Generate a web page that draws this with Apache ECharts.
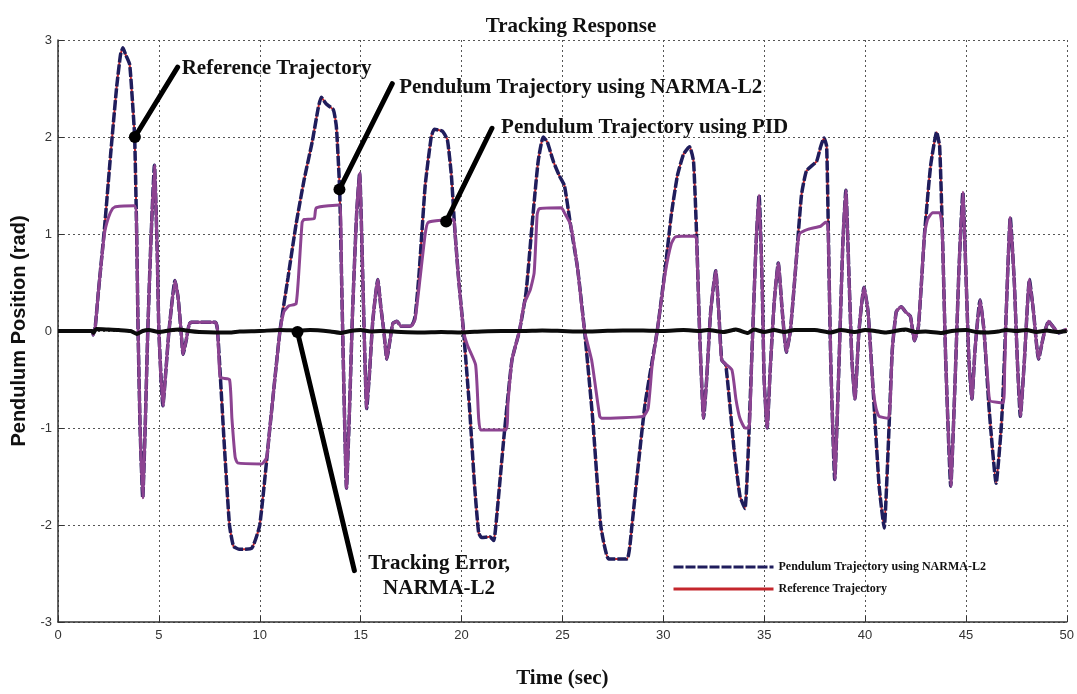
<!DOCTYPE html>
<html>
<head>
<meta charset="utf-8">
<title>Tracking Response</title>
<script src="https://cdn.jsdelivr.net/npm/echarts@6/dist/echarts.min.js"></script>
<style>
  html, body { margin: 0; padding: 0; background: #ffffff; }
  #chart { width: 1077px; height: 694px; }
</style>
</head>
<body>
<div id="chart"></div>
<script>
// Axis ticks
const timeTicks = [0, 5, 10, 15, 20, 25, 30, 35, 40, 45, 50];
const angleTicks = [-3, -2, -1, 0, 1, 2, 3];

// Reference trajectory (the NARMA-L2 response lies on it within the line width)
const refTime = [0, 1.7, 1.75, 1.85, 2.0, 2.3, 2.6, 2.9, 3.1, 3.22, 3.35, 3.55, 3.68, 3.8, 3.9, 3.97, 4.07, 4.2, 4.32, 4.45,
  4.6, 4.78, 4.92, 5.0, 5.2, 5.35, 5.5, 5.8, 5.95, 6.1, 6.2, 6.35, 6.5, 6.6, 7.8, 7.9, 8.0, 8.25, 8.5, 8.7,
  9.0, 9.6, 10.0, 10.5, 11.0, 11.4, 11.8, 12.2, 12.6, 12.9, 13.05, 13.3, 13.65, 13.8, 13.96, 14.05, 14.15, 14.3, 14.45, 14.6,
  14.8, 14.95, 15.1, 15.2, 15.3, 15.45, 15.6, 15.85, 16.0, 16.15, 16.3, 16.45, 16.6, 16.8, 17.0, 17.5, 17.7, 17.9, 18.2, 18.5,
  18.65, 19.05, 19.3, 19.5, 19.65, 19.85, 20.1, 20.4, 20.65, 20.85, 21.0, 21.4, 21.6, 21.75, 22.1, 22.5, 22.87, 23.2, 23.5, 23.8,
  24.05, 24.25, 24.55, 24.85, 25.1, 25.4, 25.75, 26.1, 26.5, 26.9, 27.3, 28.2, 28.45, 28.7, 29.1, 29.7, 30.1, 30.4, 30.7, 31.0,
  31.3, 31.5, 31.65, 31.8, 32.0, 32.15, 32.35, 32.6, 32.75, 32.9, 33.1, 33.5, 33.8, 34.05, 34.2, 34.4, 34.6, 34.75, 34.9, 35.0,
  35.15, 35.3, 35.5, 35.7, 35.9, 36.1, 36.3, 36.6, 36.85, 37.1, 37.6, 37.8, 37.97, 38.1, 38.2, 38.3, 38.5, 38.7, 38.9, 39.05,
  39.2, 39.35, 39.5, 39.7, 39.95, 40.15, 40.4, 40.7, 40.95, 41.15, 41.35, 41.55, 41.8, 42.0, 42.25, 42.45, 42.65, 42.95, 43.25, 43.55,
  43.7, 43.85, 44.0, 44.25, 44.45, 44.65, 44.85, 45.0, 45.15, 45.3, 45.45, 45.7, 45.9, 46.15, 46.5, 46.75, 46.85, 47.0, 47.2, 47.4,
  47.55, 47.7, 47.9, 48.15, 48.35, 48.6, 48.85, 49.1, 49.3, 49.6, 50];
const refAngle = [0, 0, -0.04, 0.05, 0.4, 1.05, 1.8, 2.5, 2.85, 2.92, 2.85, 2.75, 2.4, 2.0, 1.0, 0, -1.0, -1.72, -1.0, 0,
  0.9, 1.71, 0.8, 0, -0.77, -0.4, 0, 0.52, 0.35, 0, -0.24, -0.1, 0.07, 0.09, 0.09, 0.02, -0.3, -1.2, -2.0, -2.22,
  -2.25, -2.24, -2.0, -1.0, 0, 0.55, 1.1, 1.56, 1.95, 2.3, 2.41, 2.34, 2.28, 2.1, 1.46, 0.6, -0.4, -1.62, -0.8, 0.2,
  1.2, 1.63, 0.6, -0.2, -0.8, -0.4, 0.1, 0.53, 0.25, 0, -0.29, -0.1, 0.08, 0.1, 0.05, 0.05, 0.15, 0.6, 1.5, 2.0,
  2.08, 2.06, 1.97, 1.6, 1.1, 0.55, 0, -0.8, -1.6, -2.08, -2.13, -2.12, -2.16, -1.9, -1.1, -0.3, 0, 0.4, 1.1, 1.75,
  2.0, 1.95, 1.75, 1.6, 1.5, 1.1, 0.65, 0, -0.9, -2.0, -2.35, -2.35, -2.0, -1.5, -0.75, 0, 0.65, 1.2, 1.6, 1.82,
  1.9, 1.75, 1.0, 0, -0.9, -0.5, 0.2, 0.62, 0.2, -0.3, -0.35, -1.2, -1.7, -1.83, -1.3, -0.2, 0.9, 1.4, 0.5, -0.5,
  -1.0, -0.4, 0.3, 0.7, 0.2, -0.22, 0, 0.75, 1.4, 1.65, 1.75, 1.9, 1.99, 1.9, 0.8, -0.3, -1.53, -0.4, 0.9, 1.45,
  0.6, -0.3, -0.7, 0, 0.45, 0.2, -0.6, -1.6, -2.03, -1.2, -0.2, 0.2, 0.25, 0.2, 0.15, -0.1, 0.05, 1.0, 1.7, 2.05,
  1.9, 0.9, -0.3, -1.6, -0.6, 0.6, 1.43, 0.6, -0.3, -0.7, -0.2, 0.32, 0, -0.8, -1.57, -1.0, -0.6, 0.2, 1.17, 0.5,
  -0.3, -0.88, -0.3, 0.53, 0.2, -0.29, -0.05, 0.1, 0.05, -0.02, 0.02];

// Pendulum response under PID control
const pidTime = [0, 1.7, 1.75, 1.85, 2.0, 2.3, 2.5, 2.7, 2.85, 3.8, 3.9, 3.97, 4.07, 4.2, 4.32, 4.45, 4.6, 4.78, 4.92, 5.0,
  5.2, 5.35, 5.5, 5.8, 5.95, 6.1, 6.2, 6.35, 6.5, 6.6, 7.8, 7.9, 7.98, 8.05, 8.5, 8.62, 8.78, 8.9, 10.1, 10.35,
  10.5, 11.0, 11.2, 11.45, 11.8, 11.95, 12.1, 12.2, 12.7, 12.8, 13.95, 14.05, 14.15, 14.3, 14.45, 14.6, 14.8, 14.95, 15.1, 15.2,
  15.3, 15.45, 15.6, 15.85, 16.0, 16.15, 16.3, 16.45, 16.6, 16.8, 17.0, 17.5, 17.7, 17.95, 18.2, 18.35, 19.6, 19.68, 19.85, 20.1,
  20.3, 20.7, 20.85, 20.95, 22.2, 22.3, 22.5, 22.87, 23.1, 23.4, 23.6, 23.75, 23.85, 24.95, 25.1, 25.4, 25.75, 26.1, 26.45, 26.85,
  26.95, 29.0, 29.25, 29.45, 29.7, 30.1, 30.4, 30.6, 31.55, 31.65, 31.8, 32.0, 32.15, 32.35, 32.6, 32.75, 32.9, 33.4, 33.6, 33.8,
  34.05, 34.25, 34.4, 34.6, 34.75, 34.9, 35.0, 35.15, 35.3, 35.5, 35.7, 35.9, 36.1, 36.3, 36.6, 36.75, 37.2, 37.8, 38.05, 38.15,
  38.2, 38.3, 38.5, 38.7, 38.9, 39.05, 39.2, 39.35, 39.5, 39.7, 39.95, 40.15, 40.4, 40.55, 40.7, 41.15, 41.25, 41.35, 41.55, 41.8,
  42.0, 42.25, 42.45, 42.65, 42.95, 43.1, 43.35, 43.7, 43.8, 43.85, 44.0, 44.25, 44.45, 44.65, 44.85, 45.0, 45.15, 45.3, 45.45, 45.7,
  45.9, 46.1, 46.2, 46.85, 46.92, 47.0, 47.2, 47.4, 47.55, 47.7, 47.9, 48.15, 48.35, 48.6, 48.85, 49.1, 49.3, 49.6, 50];
const pidAngle = [0, 0, -0.04, 0.05, 0.4, 1.0, 1.17, 1.26, 1.28, 1.29, 1.0, 0, -1.0, -1.72, -1.0, 0, 0.9, 1.71, 0.8, 0,
  -0.77, -0.4, 0, 0.52, 0.35, 0, -0.24, -0.1, 0.07, 0.09, 0.09, 0.02, -0.3, -0.48, -0.5, -0.9, -1.3, -1.36, -1.37, -1.3,
  -1.0, 0, 0.2, 0.26, 0.28, 0.65, 1.12, 1.15, 1.16, 1.27, 1.3, 0.6, -0.4, -1.62, -0.8, 0.2, 1.2, 1.63, 0.6, -0.2,
  -0.8, -0.4, 0.1, 0.53, 0.25, 0, -0.29, -0.1, 0.08, 0.1, 0.05, 0.05, 0.12, 0.55, 1.0, 1.12, 1.15, 1.0, 0.55, 0,
  -0.15, -0.35, -0.9, -1.02, -1.02, -0.75, -0.3, 0, 0.28, 0.42, 0.6, 1.2, 1.26, 1.27, 1.22, 1.1, 0.65, 0, -0.3, -0.88,
  -0.9, -0.88, -0.8, -0.35, 0, 0.6, 0.9, 0.97, 0.98, 0.95, 0, -0.9, -0.5, 0.2, 0.62, 0.2, -0.3, -0.4, -0.7, -0.9,
  -1.0, -1.0, -0.2, 0.9, 1.4, 0.5, -0.5, -1.0, -0.4, 0.3, 0.7, 0.2, -0.22, 0, 0.75, 1.0, 1.05, 1.08, 1.12, 1.1,
  0.8, -0.3, -1.53, -0.4, 0.9, 1.45, 0.6, -0.3, -0.7, 0, 0.45, 0.2, -0.6, -0.8, -0.88, -0.9, -0.75, -0.2, 0.2, 0.25,
  0.2, 0.15, -0.1, 0.05, 1.0, 1.15, 1.22, 1.22, 1.1, 0.9, -0.3, -1.6, -0.6, 0.6, 1.43, 0.6, -0.3, -0.7, -0.2, 0.32,
  0, -0.55, -0.72, -0.74, -0.4, 0.2, 1.17, 0.5, -0.3, -0.88, -0.3, 0.53, 0.2, -0.29, -0.05, 0.1, 0.05, -0.02, 0.02];

// Tracking error of the NARMA-L2 controller
const errTime = [0, 1.7, 1.75, 1.9, 2.5, 3.0, 3.6, 3.9, 4.2, 4.5, 5.0, 5.5, 6.0, 6.5, 7.0, 7.8, 8.5, 9.0, 10.0, 11.0,
  12.0, 12.5, 13.5, 14.0, 14.5, 15.0, 15.5, 16.0, 17.0, 18.0, 19.0, 20.0, 21.0, 22.0, 23.0, 24.0, 25.0, 26.0, 27.0, 28.0,
  29.0, 30.0, 31.0, 31.8, 32.2, 33.0, 33.6, 34.2, 34.5, 35.0, 35.5, 36.0, 36.5, 37.5, 38.3, 38.8, 39.5, 40.0, 40.5, 41.0,
  41.5, 42.0, 42.5, 43.0, 43.8, 44.3, 45.0, 45.5, 46.0, 46.6, 47.0, 47.5, 48.0, 48.5, 49.0, 49.5, 50];
const errAngle = [0, 0, -0.02, 0.02, 0.015, 0.01, 0.0, -0.03, 0.0, 0.01, -0.01, 0.005, 0.015, 0.0, -0.01, -0.015, -0.015, -0.005, 0.0, 0.01,
  0.005, 0.01, -0.005, -0.02, 0.0, 0.01, -0.005, 0.0, -0.01, -0.015, -0.01, -0.015, -0.005, 0.0, 0.0, 0.005, 0.0, -0.005, 0.0, 0.005,
  0.005, 0.0, 0.01, 0.0, 0.01, -0.01, 0.015, -0.02, 0.015, -0.01, 0.01, -0.01, 0.01, 0.01, -0.015, 0.01, -0.01, 0.01, 0.0, -0.015,
  0.0, 0.015, -0.01, -0.005, -0.02, 0.0, 0.01, -0.01, -0.015, -0.005, 0.01, 0.0, 0.01, -0.01, 0.005, -0.01, 0.0];

// Callout labels: the curve point each pointer touches and where its caption sits (data units)
const calloutText = ['Reference Trajectory', 'Pendulum Trajectory using NARMA-L2',
  'Pendulum Trajectory using PID', 'Tracking Error,\nNARMA-L2'];
const calloutTip = [[3.81, 2.0], [13.95, 1.46], [19.24, 1.13], [11.87, -0.01]];
const calloutTail = [[5.93, 2.72], [16.57, 2.55], [21.51, 2.09], [14.69, -2.47]];
const calloutAnchor = [[6.13, 2.71], [16.91, 2.51], [21.96, 2.10], [18.89, -2.53]];
const calloutAlign = ['left', 'left', 'left', 'center'];

const SERIF = '"Liberation Serif", "Times New Roman", serif';
const SANS = '"Liberation Sans", Arial, sans-serif';
const pairs = (ts, vs) => ts.map((t, i) => [t, vs[i]]);

const chart = echarts.init(document.getElementById('chart'), null, { renderer: 'canvas' });

const gridLine = { show: true, lineStyle: { color: '#555', width: 1, type: [2, 3] } };

const pointerSeries = calloutTip.map((tip, i) => ({
  type: 'line',
  name: 'pointer' + i,
  data: [
    { value: tip, symbol: 'circle', symbolSize: 12 },
    { value: calloutTail[i], symbol: 'none' }
  ],
  showSymbol: true,
  lineStyle: { color: '#000', width: 5, cap: 'round' },
  itemStyle: { color: '#000' },
  z: 10,
  silent: true,
  animation: false
}));

chart.setOption({
  animation: false,
  backgroundColor: '#ffffff',
  title: {
    text: 'Tracking Response',
    left: 566,
    top: 11,
    textAlign: 'center',
    textStyle: { fontFamily: SERIF, fontWeight: 'bold', fontSize: 21, color: '#111' }
  },
  grid: { left: 58, right: 8, top: 40, bottom: 69, containLabel: false },
  legend: {
    data: [
      { name: 'Pendulum Trajectory using NARMA-L2', itemStyle: { opacity: 0 } },
      { name: 'Reference Trajectory', itemStyle: { opacity: 0 } }
    ],
    orient: 'vertical',
    left: 667,
    top: 556,
    itemWidth: 100,
    itemHeight: 14,
    itemGap: 10,
    lineStyle: { width: 3 },
    textStyle: { fontFamily: SERIF, fontWeight: 'bold', fontSize: 12, color: '#111' },
    selectedMode: false
  },
  xAxis: {
    type: 'value',
    min: timeTicks[0],
    max: timeTicks[timeTicks.length - 1],
    interval: timeTicks[1] - timeTicks[0],
    name: 'Time (sec)',
    nameLocation: 'middle',
    nameGap: 46,
    nameTextStyle: { fontFamily: SERIF, fontWeight: 'bold', fontSize: 21, color: '#111' },
    axisLine: { show: true, onZero: false, lineStyle: { color: '#333', width: 1.5 } },
    axisTick: { show: true, inside: true, length: 6, lineStyle: { color: '#333' } },
    axisLabel: { margin: 7, fontFamily: SANS, fontSize: 13, color: '#333' },
    splitLine: gridLine
  },
  yAxis: {
    type: 'value',
    min: angleTicks[0],
    max: angleTicks[angleTicks.length - 1],
    interval: angleTicks[1] - angleTicks[0],
    name: 'Pendulum Position (rad)',
    nameLocation: 'middle',
    nameGap: 24,
    nameTextStyle: { fontFamily: SANS, fontWeight: 'bold', fontSize: 20, color: '#111' },
    axisLine: { show: true, onZero: false, lineStyle: { color: '#333', width: 1.5 } },
    axisTick: { show: true, inside: true, length: 6, lineStyle: { color: '#333' } },
    axisLabel: { margin: 6, fontFamily: SANS, fontSize: 13, color: '#333' },
    splitLine: gridLine
  },
  series: [
    {
      type: 'line',
      name: 'Reference Trajectory',
      data: pairs(refTime, refAngle),
      symbol: 'none',
      smooth: 0.15,
      lineStyle: { color: '#c4262c', width: 2 },
      itemStyle: { color: '#c4262c' },
      z: 2
    },
    {
      type: 'line',
      name: 'Pendulum Trajectory using NARMA-L2',
      data: pairs(refTime, refAngle),
      symbol: 'none',
      smooth: 0.15,
      lineStyle: { color: '#1f1d5c', width: 3.5, type: [10, 2] },
      itemStyle: { color: '#1f1d5c' },
      z: 3
    },
    {
      type: 'line',
      name: 'Pendulum Trajectory using PID',
      data: pairs(pidTime, pidAngle),
      symbol: 'none',
      smooth: 0.15,
      lineStyle: { color: '#8c4391', width: 3 },
      itemStyle: { color: '#8c4391' },
      z: 4
    },
    {
      type: 'line',
      name: 'Tracking Error, NARMA-L2',
      data: pairs(errTime, errAngle),
      symbol: 'none',
      smooth: 0.2,
      lineStyle: { color: '#0b0b0b', width: 4 },
      itemStyle: { color: '#0b0b0b' },
      z: 5
    },
    ...pointerSeries
  ]
});

// Captions for the callouts, placed through the chart's own coordinate system
const captions = calloutText.map((text, i) => {
  const p = chart.convertToPixel({ gridIndex: 0 }, calloutAnchor[i]);
  return {
    type: 'text',
    x: p[0],
    y: p[1],
    z: 20,
    style: {
      text: text,
      fill: '#111',
      font: 'bold 21px ' + SERIF,
      align: calloutAlign[i],
      verticalAlign: 'middle',
      lineHeight: 25
    }
  };
});
chart.setOption({ graphic: captions });
</script>
</body>
</html>
